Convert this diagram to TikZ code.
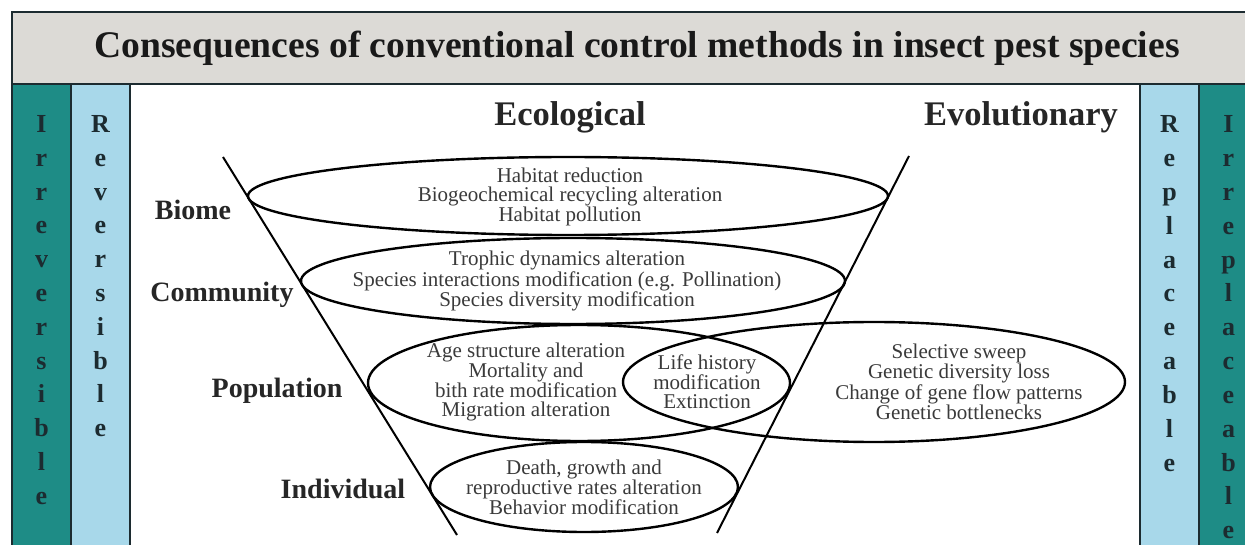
\documentclass[tikz,border=0pt]{standalone}
\usepackage{fontspec}
\setmainfont{Liberation Serif}
\usetikzlibrary{shapes.geometric}
\definecolor{tealcol}{HTML}{1E8C86}
\definecolor{bluecol}{HTML}{A8D8EA}
\definecolor{titlegray}{HTML}{DCDAD6}
\definecolor{framecol}{HTML}{1C2B30}
\definecolor{txtcol}{HTML}{3A3A3A}
\tikzset{
  letter/.style={font=\fontsize{26}{26}\selectfont\bfseries, text=framecol, anchor=base, inner sep=0pt},
  level/.style={font=\fontsize{28}{28}\selectfont\bfseries, text=black!85, inner sep=0pt},
  head/.style={font=\fontsize{34.5}{34.5}\selectfont\bfseries, text=black!85, inner sep=0pt},
  body/.style={font=\fontsize{21}{19}\selectfont, text=txtcol, align=center, inner sep=0pt},
  oval/.style={draw=black, line width=2.4pt, ellipse, inner sep=0pt},
  funnel/.style={draw=black, line width=2pt},
  bar/.style={draw=framecol, line width=1.8pt}
}
\begin{document}
\begin{tikzpicture}[x=1pt,y=-1pt]
\useasboundingbox (0,0) rectangle (1245,545);
\begin{scope}
\clip (0,0) rectangle (1245,545);
\fill[white] (0,0) rectangle (1245,545);
% title band
\path[bar, fill=titlegray] (12,12) rectangle (1258,84);
\node[font=\fontsize{37.6}{37.6}\selectfont\bfseries, text=black!90, inner sep=0pt] (title) at (637,48) {Consequences of conventional control methods in insect pest species};
% side bars
\path[bar, fill=tealcol] (12,84) rectangle (71,560);
\path[bar, fill=bluecol] (71,84) rectangle (130,560);
\path[bar, fill=bluecol] (1140,84) rectangle (1199,560);
\path[bar, fill=tealcol] (1199,84) rectangle (1258,560);
\foreach \l [count=\i from 0] in {I,r,r,e,v,e,r,s,i,b,l,e}
  \node[letter] (irrev\i) at (41.5,132.5+33.8*\i) {\l};
\foreach \l [count=\i from 0] in {R,e,v,e,r,s,i,b,l,e}
  \node[letter] (rev\i) at (100.5,132.5+33.8*\i) {\l};
\foreach \l [count=\i from 0] in {R,e,p,l,a,c,e,a,b,l,e}
  \node[letter] (repl\i) at (1169.5,133+33.8*\i) {\l};
\foreach \l [count=\i from 0] in {I,r,r,e,p,l,a,c,e,a,b,l,e}
  \node[letter] (irrepl\i) at (1228.5,133+33.8*\i) {\l};
% headings
\node[head] (eco) at (570,117) {Ecological};
\node[head] (evo) at (1021,117) {Evolutionary};
% funnel
\coordinate (fl1) at (223,157);
\coordinate (fl2) at (457,535);
\coordinate (fr1) at (909,156);
\coordinate (fr2) at (717,533);
\draw[funnel] (fl1) -- (fl2);
\draw[funnel] (fr1) -- (fr2);
% ellipses
\node[oval, minimum width=640, minimum height=78] (biome) at (568,196) {};
\node[oval, minimum width=544, minimum height=86] (comm) at (573,281) {};
\node[oval, minimum width=422, minimum height=116] (pop) at (579,383) {};
\node[oval, minimum width=502, minimum height=120] (evol) at (874,382) {};
\node[oval, minimum width=308, minimum height=90] (indiv) at (584,487) {};
% level labels
\node[level] (lbiome) at (193,210) {Biome};
\node[level] (lcomm) at (222,295) {Community};
\node[level] (lpop) at (277,391) {Population};
\node[level] (lind) at (343,489) {Individual};
% texts
\node[body] (tbiome) at (570,197) {Habitat reduction\\Biogeochemical recycling alteration\\Habitat pollution};
\node[body] (tcomm) at (567,281) {Trophic dynamics alteration\\Species interactions modification (e.g. Pollination)\\Species diversity modification};
\node[body] (tpop) at (526,382) {Age structure alteration\\Mortality and\\bith rate modification\\Migration alteration};
\node[body] (tlife) at (707,382) {Life history\\modification\\Extinction};
\node[body] (tevol) at (959,382) {Selective sweep\\Genetic diversity loss\\Change of gene flow patterns\\Genetic bottlenecks};
\node[body] (tind) at (584,487) {Death, growth and\\reproductive rates alteration\\Behavior modification};
\end{scope}
\end{tikzpicture}
\end{document}
